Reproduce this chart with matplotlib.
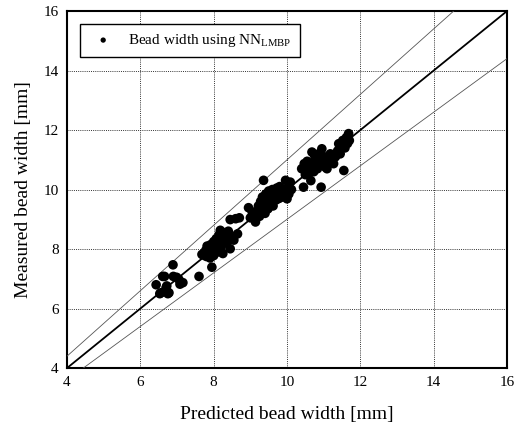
import matplotlib
matplotlib.use("Agg")
import matplotlib.pyplot as plt
import numpy as np

plt.rcParams['font.family'] = ['Liberation Serif', 'DejaVu Serif']
plt.rcParams['mathtext.fontset'] = 'custom'
plt.rcParams['mathtext.rm'] = 'Liberation Serif'

# Predicted vs measured bead width [mm]
predicted = [
    6.43, 6.53, 6.56, 6.61, 6.66, 6.70, 6.72, 6.75, 6.78, 6.89, 6.90, 6.99, 7.05, 7.08, 7.16, 7.60,
    7.68, 7.72, 7.78, 7.80, 7.82, 7.85, 7.88, 7.90, 7.92, 7.95, 7.95, 7.97, 8.00, 8.00, 8.03, 8.05,
    8.07, 8.10, 8.12, 8.15, 8.18, 8.20, 8.22, 8.25, 8.28, 8.30, 8.35, 8.40, 8.45, 8.45, 8.50, 8.55,
    8.60, 8.65, 8.70,
    8.95, 9.00, 9.05, 9.09, 9.14, 9.18, 9.22, 9.25, 9.28, 9.30, 9.33, 9.36, 9.38, 9.40, 9.42, 9.45,
    9.48, 9.50, 9.52, 9.55, 9.58, 9.60, 9.62, 9.65, 9.68, 9.70, 9.72, 9.75, 9.78, 9.80, 9.83, 9.86,
    9.90, 9.92, 9.96, 10.00, 10.02, 10.05, 10.09, 10.12,
    10.40, 10.45, 10.47, 10.50, 10.55, 10.59, 10.62, 10.65, 10.68, 10.70, 10.73, 10.75, 10.78, 10.80,
    10.83, 10.86, 10.90, 10.93, 10.95, 10.98, 11.02, 11.05, 11.09, 11.12, 11.18, 11.22, 11.27, 11.32,
    11.38, 11.41, 11.45, 11.48, 11.52, 11.55, 11.58, 11.59, 11.62, 11.65, 11.68, 11.70,
]
measured = [
    6.80, 6.50, 6.53, 7.08, 7.08, 6.70, 6.76, 6.50, 6.53, 7.47, 7.08, 7.05, 6.98, 6.82, 6.87, 7.08,
    7.82, 7.80, 7.95, 7.75, 8.10, 7.88, 8.00, 7.70, 8.15, 7.85, 7.39, 8.05, 7.78, 8.25, 7.95, 8.10,
    8.35, 7.90, 8.20, 8.48, 8.63, 8.05, 8.30, 7.85, 8.55, 8.40, 8.20, 8.60, 8.01, 8.99, 8.40, 8.30,
    9.02, 8.51, 9.05,
    9.39, 9.05, 9.25, 9.08, 8.91, 9.20, 9.45, 9.10, 9.60, 9.30, 9.75, 10.31, 9.50, 9.20, 9.85, 9.60,
    9.35, 9.95, 9.70, 9.50, 9.85, 10.00, 9.45, 9.75, 9.95, 9.65, 10.05, 9.85, 9.70, 10.10, 9.90, 9.75,
    10.00, 9.78, 10.31, 9.69, 10.05, 9.85, 10.25, 10.00,
    10.70, 10.08, 10.87, 10.50, 10.95, 10.53, 10.75, 10.30, 11.26, 10.90, 10.60, 11.15, 10.80, 11.05,
    10.70, 11.20, 10.95, 10.08, 11.37, 10.85, 11.10, 10.75, 10.70, 11.00, 11.20, 10.95, 10.87, 11.10,
    11.30, 11.54, 11.20, 11.45, 11.65, 10.64, 11.40, 11.60, 11.75, 11.55, 11.88, 11.65,
]

ticks = [4, 6, 8, 10, 12, 14, 16]
band = 0.10  # +/-10 % bounds around the ideal line

fig = plt.figure(figsize=(5.32, 4.25), dpi=100)
ax = fig.add_axes([0.126, 0.134, 0.827, 0.840])

xx = np.array([4, 16])
ax.plot(xx, xx, color='black', lw=1.3, zorder=3)
ax.plot(xx, xx * (1 + band), color='#555555', lw=0.6, zorder=3)
ax.plot(xx, xx * (1 - band), color='#555555', lw=0.6, zorder=3)

ax.scatter(predicted, measured, s=48, color='black', edgecolors='none', zorder=4,
           label='Bead width using NN$_{\\mathrm{LMBP}}$')

ax.set_xlim(4, 16)
ax.set_ylim(4, 16)
ax.set_xticks(ticks)
ax.set_yticks(ticks)
ax.grid(True, color='#333333', linestyle=(0, (1, 1.2)), linewidth=0.7)
ax.set_axisbelow(True)
ax.tick_params(length=0, labelsize=11, pad=6)
for s in ax.spines.values():
    s.set_linewidth(1.5)

ax.set_xlabel('Predicted bead width [mm]', fontsize=14, labelpad=12)
ax.set_ylabel('Measured bead width [mm]', fontsize=14, labelpad=8)

leg = ax.legend(loc='upper left', bbox_to_anchor=(0.011, 0.905, 0.536, 0.081), mode='expand',
                fancybox=False, framealpha=1, edgecolor='black', fontsize=11,
                handletextpad=0.6, borderpad=0.55, scatterpoints=1, markerscale=0.55)
leg.get_frame().set_linewidth(1.0)

fig.savefig('out.png', dpi=100)
